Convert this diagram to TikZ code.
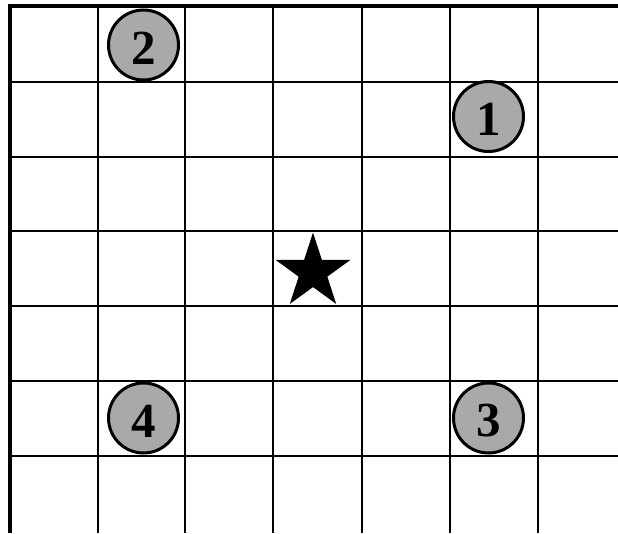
\documentclass[tikz,border=0pt]{standalone}
\usepackage{fontspec}
\setmainfont{Liberation Serif}
\usetikzlibrary{shapes.geometric}
\definecolor{tokengray}{HTML}{A9A9A9}
\begin{document}
\begin{tikzpicture}[x=1pt,y=-1pt,
  gridline/.style={line width=2pt,black},
  borderline/.style={line width=4pt,black},
  token/.style={circle,draw=black,line width=3pt,fill=tokengray,minimum size=70pt,inner sep=0pt},
  digit/.style={font=\fontsize{49}{49}\selectfont\bfseries,inner sep=0pt},
  starmark/.style={star,star points=5,star point ratio=2.618,fill=black,draw=none,minimum size=79pt,inner sep=0pt}]
\useasboundingbox (0,0) rectangle (618,533);
\fill[white] (0,0) rectangle (618,533);
\foreach \x in {97.5,185,273,361.5,450,538} \draw[gridline] (\x,6) -- (\x,533);
\foreach \y in {82,156.5,231,306,381,456} \draw[gridline] (10,\y) -- (618,\y);
\draw[borderline] (10,533) -- (10,6) -- (618,6);
\node[token] (t2) at (143.5,45) {};
\node[token] (t1) at (488.5,116.5) {};
\node[token] (t3) at (488.5,418) {};
\node[token] (t4) at (143.5,418) {};
\node[digit] at ([yshift=-3pt]t2.center) {2};
\node[digit] at ([yshift=-3pt]t1.center) {1};
\node[digit] at ([yshift=-3pt]t3.center) {3};
\node[digit] at ([yshift=-3pt]t4.center) {4};
\node[starmark] (s) at (313,272) {};
\end{tikzpicture}
\end{document}
